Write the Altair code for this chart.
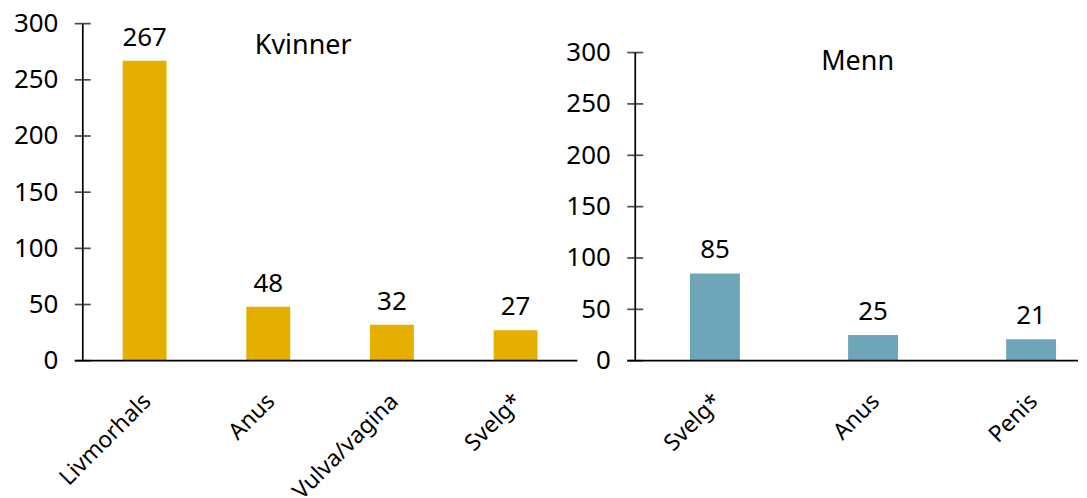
import altair as alt
import pandas as pd

# ---- data ----
kvinner_cats = ["Livmorhals", "Anus", "Vulva/vagina", "Svelg*"]
kvinner_vals = [267, 48, 32, 27]
menn_cats = ["Svelg*", "Anus", "Penis"]
menn_vals = [85, 25, 21]
y_ticks = [0, 50, 100, 150, 200, 250, 300]
titles = ["Kvinner", "Menn"]

FONT = "Noto Sans"
YELLOW = "#E5AF00"
BLUE = "#6EA6B9"
FS_NUM = 26
FS_CAT = 23
FS_TTL = 27
LW = 1.7


def panel(cats, vals, color, title, width, height, ymax, pin, pout, align,
          title_x, title_y, xline_extra):
    df = pd.DataFrame({"kat": cats, "antall": vals})
    x = alt.X("kat:N", sort=cats, title=None,
              scale=alt.Scale(paddingInner=pin, paddingOuter=pout, align=align),
              axis=alt.Axis(labelAngle=-45, domain=False, ticks=False,
                            labelFontSize=FS_CAT, labelFont=FONT, labelColor="black",
                            labelPadding=29, labelOffset=-5))
    y = alt.Y("antall:Q", title=None,
              scale=alt.Scale(domain=[0, ymax], nice=False, zero=True),
              axis=alt.Axis(values=y_ticks, ticks=False, domain=False,
                            grid=False, labelPadding=25, labelFontSize=FS_NUM,
                            labelFont=FONT, labelColor="black"))
    base = alt.Chart(df)
    bars = base.mark_bar(color=color).encode(x=x, y=y)
    labels = base.mark_text(dy=-15, baseline="alphabetic", fontSize=FS_NUM,
                            font=FONT, color="black").encode(x=x, y=y, text="antall:Q")
    tickdf = alt.Chart(pd.DataFrame({"v": y_ticks}))
    yticks = tickdf.mark_tick(color="black", thickness=LW, size=16,
                              orient="horizontal").encode(
        x=alt.value(0), y=alt.Y("v:Q"))
    one = alt.Chart(pd.DataFrame({"t": [title]}))
    yline = one.mark_rule(color="black", strokeWidth=LW).encode(
        x=alt.value(0), y=alt.datum(300), y2=alt.datum(0))
    xline = one.mark_rule(color="black", strokeWidth=LW).encode(
        x=alt.value(-8), x2=alt.value(width + xline_extra), y=alt.datum(0))
    ttl = one.mark_text(fontSize=FS_TTL, font=FONT, color="black",
                        baseline="alphabetic").encode(
        x=alt.value(title_x), y=alt.value(title_y), text="t:N")
    return alt.layer(bars, labels, yticks, yline, xline, ttl).properties(
        width=width, height=height)


left = panel(kvinner_cats, kvinner_vals, YELLOW, titles[0], 496, 338, 300,
             0.645, 0.3225, 0.5, 221, 30, 0)
right = panel(menn_cats, menn_vals, BLUE, titles[1], 440, 338, 300 * 338 / 309,
              0.6845, 0.23, 0.753, 223, 46, 4)

chart = alt.hconcat(left, right, spacing=58, bounds="flush").configure_view(
    stroke=None).properties(padding={"left": 5, "top": 2, "right": 0, "bottom": 0})

chart.save("out.html", embed_options={"renderer": "svg", "actions": False})
